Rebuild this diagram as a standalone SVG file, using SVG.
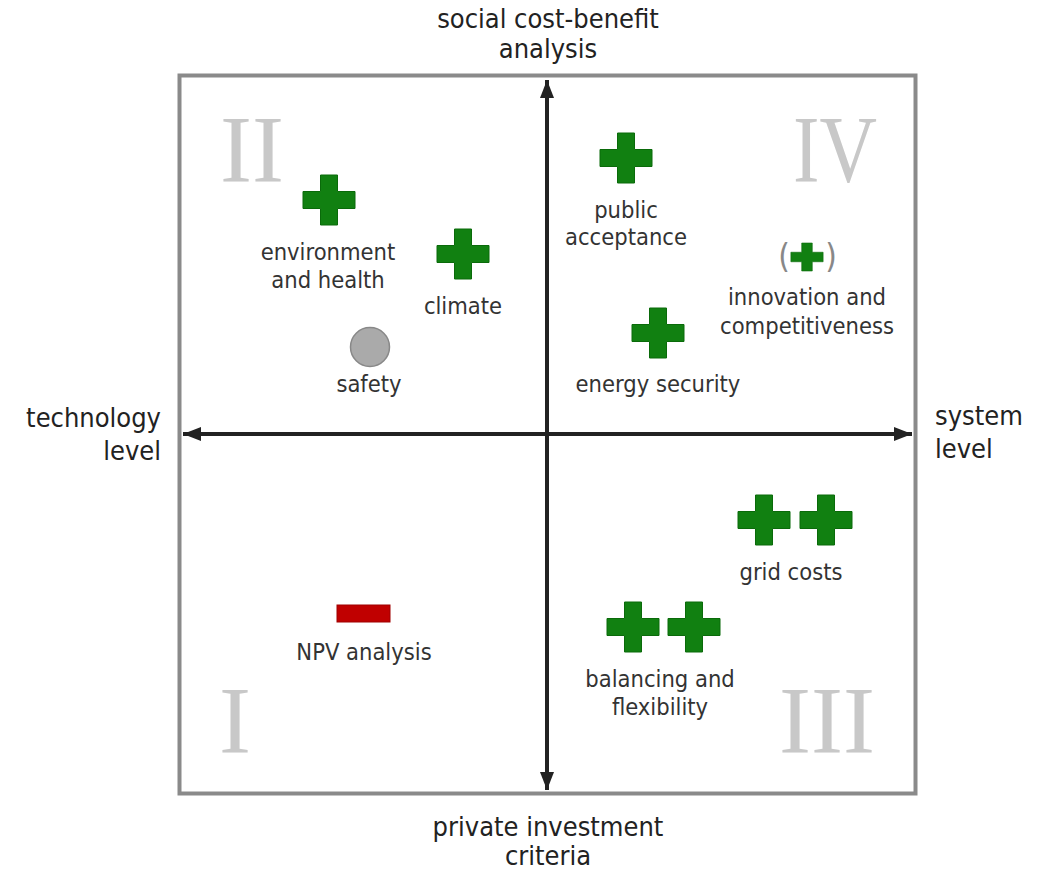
<svg xmlns="http://www.w3.org/2000/svg" width="1048" height="869" viewBox="0 0 1048 869">
<style>
.lbl{font-family:"DejaVu Sans Condensed","DejaVu Sans",sans-serif;font-size:23.5px;fill:#333;text-anchor:middle}
.ax{font-family:"DejaVu Sans Condensed","DejaVu Sans",sans-serif;font-size:27px;fill:#222}
.rom{font-family:"Liberation Serif",serif;font-size:96px;fill:#c8c8c8;text-anchor:middle}
.par{font-family:"DejaVu Sans Condensed","DejaVu Sans",sans-serif;font-size:33px;fill:#888;text-anchor:middle}
.plus{fill:#118011;stroke:#0a6a0a;stroke-width:1}
.axis{stroke:#222;stroke-width:4;fill:none}
</style>
<defs>
<marker id="ah" markerUnits="userSpaceOnUse" markerWidth="18" markerHeight="14" refX="18" refY="7" orient="auto-start-reverse">
<path d="M0,0 L18,7 L0,14 z" fill="#222"/>
</marker>
<path id="cross" d="M-8.5,-25 H8.5 V-8.5 H26 V8.5 H8.5 V25 H-8.5 V8.5 H-26 V-8.5 H-8.5 Z"/>
</defs>
<rect x="0" y="0" width="1048" height="869" fill="#fff"/>
<rect x="179.5" y="75.5" width="736" height="718" fill="none" stroke="#8a8a8a" stroke-width="4"/>

<g id="quadrant-numerals">
<text class="rom" x="252" y="182">II</text>
<text class="rom" x="835" y="182" textLength="84" lengthAdjust="spacingAndGlyphs">IV</text>
<text class="rom" x="235" y="753">I</text>
<text class="rom" x="827" y="753">III</text>
</g>

<g id="connectors">
<line class="axis" x1="547" y1="790" x2="547" y2="80" marker-start="url(#ah)" marker-end="url(#ah)"/>
<line class="axis" x1="183" y1="434" x2="912" y2="434" marker-start="url(#ah)" marker-end="url(#ah)"/>
</g>

<g id="axis-labels">
<text class="ax" x="548" y="28" text-anchor="middle">social cost-benefit</text>
<text class="ax" x="548" y="58" text-anchor="middle">analysis</text>
<text class="ax" x="548" y="836" text-anchor="middle">private investment</text>
<text class="ax" x="548" y="865" text-anchor="middle">criteria</text>
<text class="ax" x="161" y="427" text-anchor="end">technology</text>
<text class="ax" x="161" y="460" text-anchor="end">level</text>
<text class="ax" x="935" y="425">system</text>
<text class="ax" x="935" y="458">level</text>
</g>

<g id="environment-health">
<use href="#cross" class="plus" x="329" y="200"/>
<text class="lbl" x="328" y="260">environment</text>
<text class="lbl" x="328" y="288">and health</text>
</g>
<g id="climate">
<use href="#cross" class="plus" x="463" y="254"/>
<text class="lbl" x="463" y="314">climate</text>
</g>
<g id="safety">
<circle cx="370" cy="347" r="19.5" fill="#aaa" stroke="#888" stroke-width="1.5"/>
<text class="lbl" x="369" y="392">safety</text>
</g>
<g id="public-acceptance">
<use href="#cross" class="plus" x="626" y="158"/>
<text class="lbl" x="626" y="218">public</text>
<text class="lbl" x="626" y="245">acceptance</text>
</g>
<g id="innovation">
<text class="par" x="784" y="268">(</text>
<text class="par" x="831" y="268">)</text>
<use href="#cross" class="plus" transform="translate(807,257) scale(0.62,0.56)"/>
<text class="lbl" x="807" y="305">innovation and</text>
<text class="lbl" x="807" y="334">competitiveness</text>
</g>
<g id="energy-security">
<use href="#cross" class="plus" x="658" y="333"/>
<text class="lbl" x="658" y="392">energy security</text>
</g>
<g id="grid-costs">
<use href="#cross" class="plus" x="764" y="520"/>
<use href="#cross" class="plus" x="826" y="520"/>
<text class="lbl" x="791" y="580">grid costs</text>
</g>
<g id="balancing-flexibility">
<use href="#cross" class="plus" x="633" y="627"/>
<use href="#cross" class="plus" x="694" y="627"/>
<text class="lbl" x="660" y="687">balancing and</text>
<text class="lbl" x="660" y="715">flexibility</text>
</g>
<g id="npv-analysis">
<rect x="337" y="605" width="53" height="17" fill="#c00000" stroke="#a00000" stroke-width="1"/>
<text class="lbl" x="364" y="660">NPV analysis</text>
</g>
</svg>
